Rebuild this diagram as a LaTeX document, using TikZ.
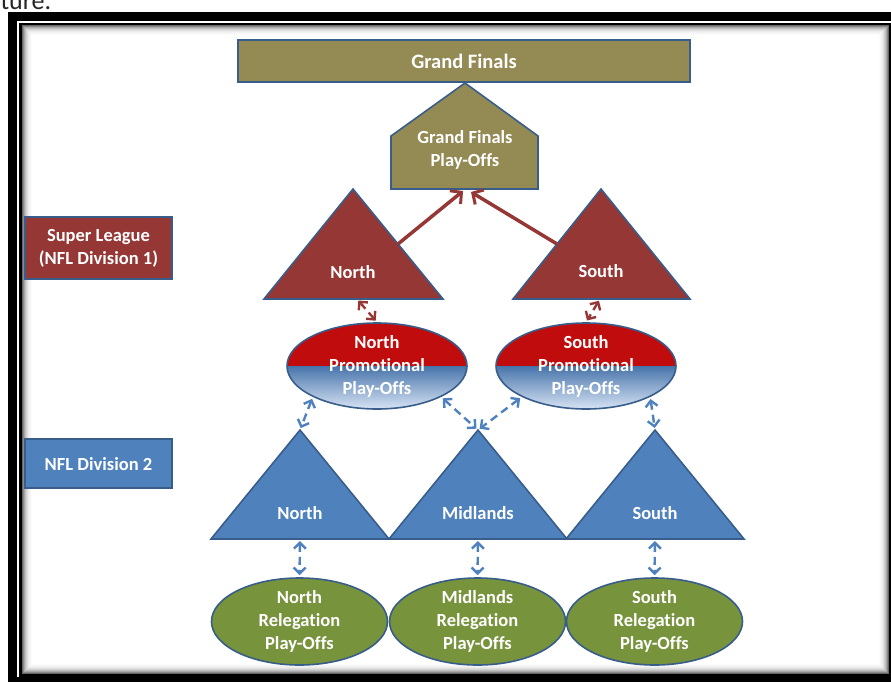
\documentclass[tikz,border=0pt]{standalone}
\usepackage{fontspec}
\setmainfont{Carlito}[Ligatures=NoCommon]
\usepackage{tikz}
\usetikzlibrary{arrows.meta, shapes.geometric, calc}
\definecolor{olive}{RGB}{148, 138, 84}
\definecolor{edge}{RGB}{56, 93, 138}
\definecolor{dark}{RGB}{149, 55, 53}
\definecolor{promo}{RGB}{192, 12, 12}
\definecolor{divblue}{RGB}{79, 129, 189}
\definecolor{paleblue}{RGB}{215, 227, 244}
\definecolor{relgreen}{RGB}{119, 147, 60}

\begin{document}
\begin{tikzpicture}[x=1pt, y=-1pt,
  txt/.style={text=white, font=\bfseries\fontsize{18.5}{23}\selectfont, align=center},
  outl/.style={draw=edge, line width=1.6pt},
  promote/.style={-{Straight Barb[length=8pt, width=17pt, line width=3pt]}, dark, line width=3.5pt},
  link/.style={{Straight Barb[length=6pt, width=12pt, line width=2.4pt]}-{Straight Barb[length=6pt, width=12pt, line width=2.4pt]},
    line width=2.4pt, dash pattern=on 8pt off 5pt, shorten <=2pt, shorten >=2pt}]
  \useasboundingbox (0, 0) rectangle (891, 682);
  \clip (0, 0) rectangle (891, 682);

  % page frame
  \node[anchor=base west, font=\fontsize{26}{30}\selectfont, text=black!85] (caption) at (-3, 10) {ture.};
  \draw[line width=9pt] (12.5, 16.5) rectangle (905, 681.5);
  \draw[line width=2.2pt] (20.4, 23.8) rectangle (890, 675.5);
  \foreach \i/\c in {1/60, 2/46, 3/34, 4/25, 5/18, 6/12, 7/8, 8/5, 9/3, 10/1}
    \draw[black!\c, line width=1pt] (21 + \i, 25 + \i) rectangle (889 - \i, 674.5 - \i);

  % grand finals
  \draw[outl, fill=olive] (238, 40) rectangle (690, 82);
  \node[txt, font=\bfseries\fontsize{20.5}{24}\selectfont] (gf) at (464, 61) {Grand Finals};
  \draw[outl, fill=olive] (465, 83) coordinate (gp-top) -- (538, 136) -- (538, 189) -- (391, 189) -- (391, 136) -- cycle;
  \coordinate (gp-south) at (466, 189);
  \node[txt] (gp) at (465, 150) {Grand Finals\\Play-Offs};

  % division labels
  \draw[outl, fill=dark] (25, 217) rectangle (172, 279);
  \node[txt] (sl) at (98.5, 248) {Super League\\(NFL Division 1)};
  \draw[outl, fill=divblue] (25, 439) rectangle (172, 488);
  \node[txt] (d2) at (98.5, 464) {NFL Division 2};

  % super league
  \draw[outl, fill=dark] (353, 189) coordinate (rn-top) -- (443, 299) coordinate (rn-right) -- (264, 299) coordinate (rn-left) -- cycle;
  \node[txt] (rn) at (353, 272) {North};
  \draw[outl, fill=dark] (601, 189) coordinate (rs-top) -- (690, 299) coordinate (rs-right) -- (513, 299) coordinate (rs-left) -- cycle;
  \node[txt] (rs) at (601, 271) {South};
  \draw[promote] ($(rn-top)!0.5!(rn-right)$) -- ($(gp-south)+(-3, 2)$);
  \draw[promote] ($(rs-top)!0.5!(rs-left)$) -- ($(gp-south)+(5, 3)$);

  % promotional play-offs
  \tikzset{promofill/.style={ellipse, outl, minimum width=180, minimum height=86, inner sep=0pt,
    path picture={
      \fill[promo] (path picture bounding box.north west) rectangle (path picture bounding box.east);
      \shade[top color=divblue!90!black, bottom color=paleblue] (path picture bounding box.west) rectangle (path picture bounding box.south east);
    }}}
  \node[promofill] (np) at (377, 366) {};
  \node[txt] (np-text) at (np) {North\\Promotional\\Play-Offs};
  \node[promofill] (sp) at (586, 366) {};
  \node[txt] (sp-text) at (sp) {South\\Promotional\\Play-Offs};
  \coordinate (rn-base) at (357, 299);
  \coordinate (rs-base) at (600, 299);
  \draw[link, dark] (rn-base) -- (np.north);
  \draw[link, dark] (rs-base) -- (sp.north);

  % division 2 and relegation play-offs
  \foreach \x/\id/\name in {300/n/North, 478/m/Midlands, 655/s/South} {
    \draw[outl, fill=divblue] (\x, 430) coordinate (b\id-top) -- (\x + 89, 539) -- (\x - 89, 539) -- cycle;
    \coordinate (b\id-base) at (\x, 539);
    \node[txt] (b\id) at (\x, 513) {\name};
    \node[ellipse, outl, fill=relgreen, minimum width=176, minimum height=87, inner sep=0pt] (\id r) at (\x - 0.5, 621.5) {};
    \node[txt] (\id r-text) at (\id r) {\name\\Relegation\\Play-Offs};
    \draw[link, divblue] (b\id-base) -- (\id r.north);
  }
  \draw[link, divblue] (np.south west) -- (bn-top);
  \draw[link, divblue] (np.south east) -- (bm-top);
  \draw[link, divblue] (sp.south west) -- (bm-top);
  \draw[link, divblue] (sp.south east) -- (bs-top);
\end{tikzpicture}
\end{document}
